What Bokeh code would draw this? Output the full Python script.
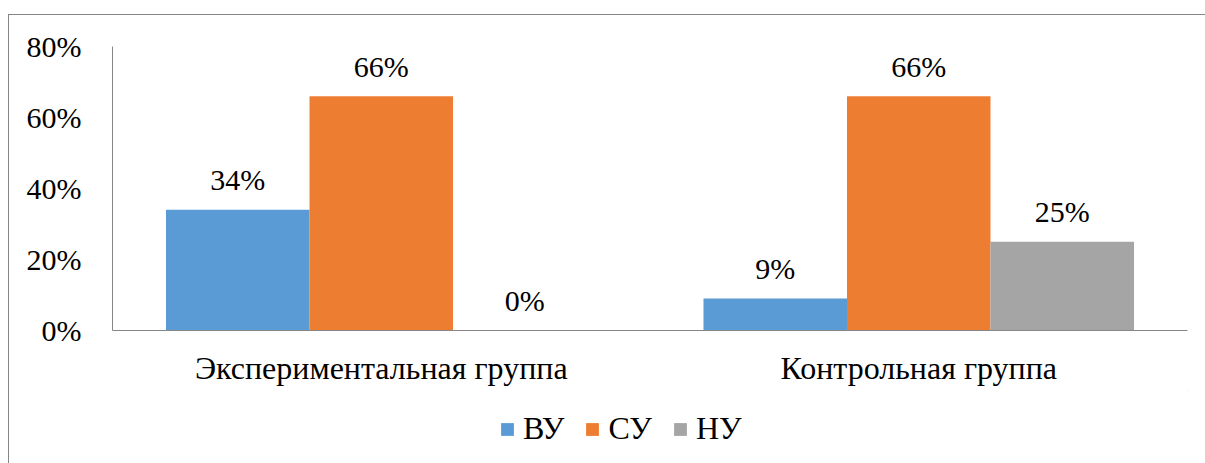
from bokeh.plotting import figure
from bokeh.layouts import column
from bokeh.models import ColumnDataSource, FactorRange, Range1d, Legend, LegendItem, NumeralTickFormatter, FixedTicker
from bokeh.transform import dodge
from bokeh.core.properties import value
from bokeh.embed import file_html
from bokeh.resources import INLINE

groups = ["Экспериментальная группа", "Контрольная группа"]
series = ["ВУ", "СУ", "НУ"]
vu = [0.34, 0.09]
su = [0.66, 0.66]
nu = [0.00, 0.25]
colors = ["#5B9BD5", "#ED7D31", "#A5A5A5"]
y_ticks = [0, 0.2, 0.4, 0.6, 0.8]

FONT = "'Liberation Serif', 'Times New Roman', serif"
FS_NUM = "30px"
FS_CAT = "32px"
FS_LEG = "32px"

src = ColumnDataSource(dict(
    g=groups, vu=vu, su=su, nu=nu,
    vu_l=[f"{round(v*100)}%" for v in vu],
    su_l=[f"{round(v*100)}%" for v in su],
    nu_l=[f"{round(v*100)}%" for v in nu],
))

p = figure(x_range=FactorRange(*groups), y_range=Range1d(0, 0.8),
           width=1196, height=375, output_backend="svg", toolbar_location=None,
           min_border_left=103, min_border_right=18, min_border_top=31, min_border_bottom=60)
p.outline_line_color = None
p.xgrid.grid_line_color = None
p.ygrid.grid_line_color = None

w = 0.267
offs = [-w, 0, w]
for col, off, c in zip(["vu", "su", "nu"], offs, colors):
    p.vbar(x=dodge("g", off, range=p.x_range), top=col, width=w, source=src,
           fill_color=c, line_color=None)
    p.text(x=dodge("g", off, range=p.x_range), y=col, text=col + "_l", source=src,
           text_font=value(FONT), text_font_size=FS_NUM, text_color="#000000",
           text_align="center", text_baseline="middle", y_offset=-30)

p.yaxis.ticker = FixedTicker(ticks=y_ticks)
p.yaxis.formatter = NumeralTickFormatter(format="0%")
for ax in (p.xaxis, p.yaxis):
    ax.axis_line_color = "#868686"
    ax.axis_line_width = 1
    ax.major_tick_line_color = None
    ax.minor_tick_line_color = None
    ax.major_label_text_font = FONT
    ax.major_label_text_color = "#000000"
p.yaxis.major_label_text_font_size = FS_NUM
p.xaxis.major_label_text_font_size = FS_CAT
p.yaxis.major_label_standoff = 25
p.xaxis.major_label_standoff = 13

# legend strip below the chart (legend glyphs come from off-screen proxy bars)
pl = figure(x_range=Range1d(0, 1), y_range=Range1d(0, 1), width=1196, height=73,
            output_backend="svg", toolbar_location=None,
            x_axis_location=None, y_axis_location=None, min_border=0)
pl.outline_line_color = None
pl.xgrid.grid_line_color = None
pl.ygrid.grid_line_color = None
leg_renderers = [pl.vbar(x=[20], bottom=[20], top=[21], width=0.1, fill_color=c, line_color=None)
                 for c in colors]
legend = Legend(items=[LegendItem(label=s, renderers=[r]) for s, r in zip(series, leg_renderers)],
                orientation="horizontal", location=(387, 16))
legend.label_text_font = FONT
legend.label_text_font_size = FS_LEG
legend.label_text_color = "#000000"
legend.glyph_width = 16
legend.glyph_height = 16
legend.label_standoff = 8
legend.spacing = 20
legend.border_line_color = None
legend.background_fill_alpha = 0
legend.margin = 0
legend.padding = 0
pl.add_layout(legend, "center")

layout = column(p, pl, spacing=0)
layout.styles = {"border-top": "1px solid #868686", "border-left": "1px solid #868686",
                 "margin-top": "14px", "margin-left": "8px"}

open("out.html", "w").write(file_html(layout, INLINE))
